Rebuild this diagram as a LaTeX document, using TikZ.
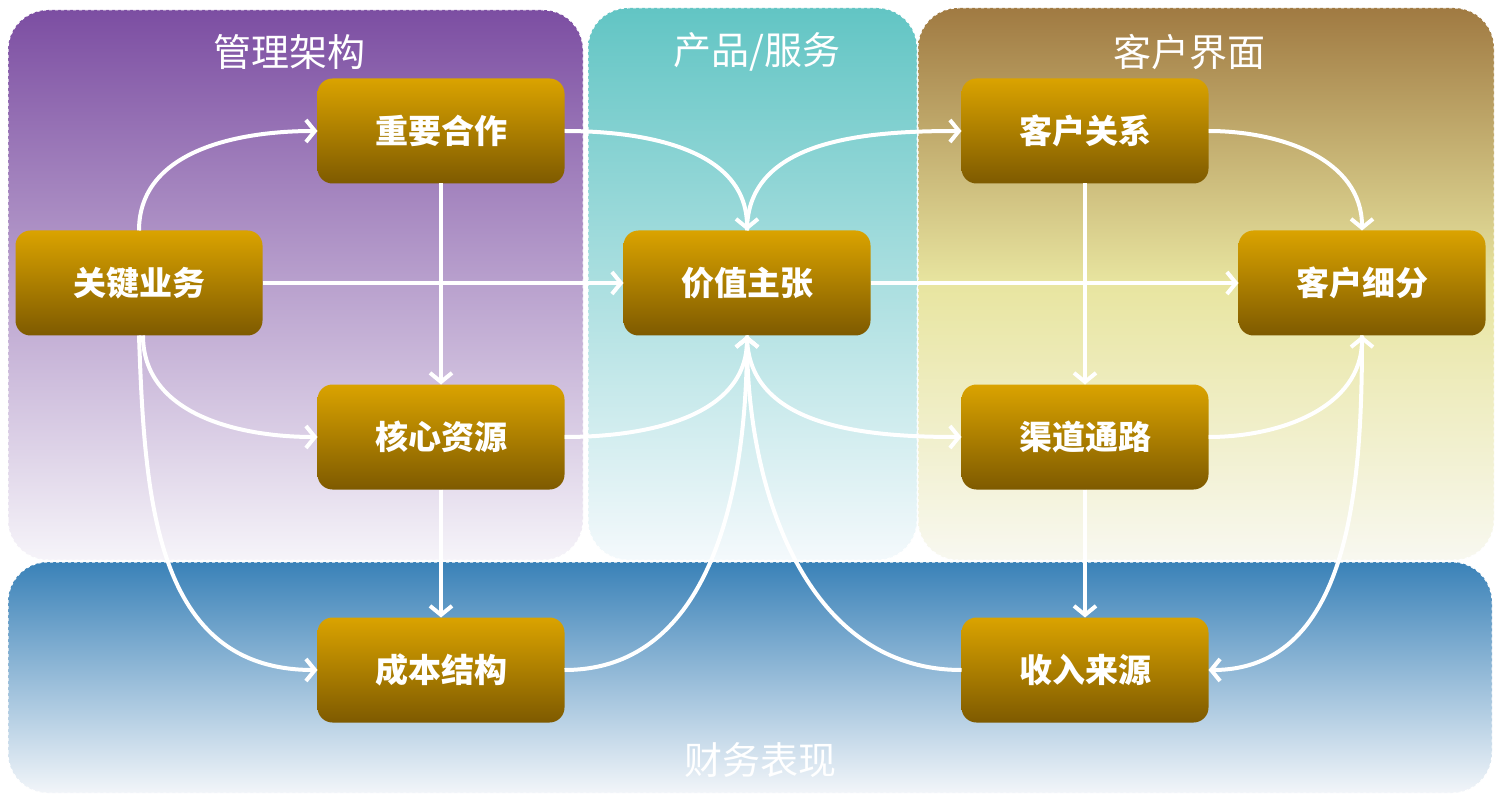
\documentclass[tikz,border=0pt]{standalone}
\usepackage{fontspec}
\setmainfont{Noto Sans CJK SC}
\usetikzlibrary{arrows.meta}
\definecolor{goldtop}{HTML}{DAA300}
\definecolor{goldbot}{HTML}{7E5A00}
\definecolor{purtop}{HTML}{7C4EA2}
\definecolor{purbot}{HTML}{F6F4F9}
\definecolor{teatop}{HTML}{62C5C4}
\definecolor{teabot}{HTML}{F4F9FC}
\definecolor{yeltop}{HTML}{A07A42}
\definecolor{yelmid}{HTML}{E8E5A0}
\definecolor{yelbot}{HTML}{F8F8F0}
\definecolor{blutop}{HTML}{3A82B8}
\definecolor{blubot}{HTML}{F2F5F9}
\tikzset{flow/.style={draw=white, line width=4pt, -{Straight Barb[length=9pt,width=22pt]}},
  unit/.style={rounded corners=15pt, top color=goldtop, bottom color=goldbot, outer sep=0pt,
    minimum width=247pt, minimum height=105pt, text=white, font=\fontsize{33}{36}\selectfont\bfseries},
  area/.style={draw=white, dashed, line width=1pt, rounded corners=40pt},
  areatitle/.style={text=white, font=\fontsize{38}{42}\selectfont}}

\begin{document}
\begin{tikzpicture}[x=1pt,y=1pt]
  \useasboundingbox (0,0) rectangle (1509,807);
  \fill[white] (0,0) rectangle (1509,807);
  % panels
  \draw[area, top color=purtop, bottom color=purbot] (8,247) rectangle (583,797);
  \draw[area, top color=teatop, bottom color=teabot] (588,247) rectangle (917,799);
  \draw[area, top color=yeltop, bottom color=yelbot, middle color=yelmid] (918,247) rectangle (1494,799);
  \draw[area, top color=blutop, bottom color=blubot] (8,14) rectangle (1492,245);
  \node[areatitle] (gl) at (289,755) {管理架构};
  \node[areatitle] (cp) at (757,755) {产品/服务};
  \node[areatitle] (kh) at (1189,755) {客户界面};
  \node[areatitle] (cw) at (760,47) {财务表现};
  % blocks
  \node[unit] (hz) at (441,676) {重要合作};
  \node[unit] (yw) at (139,524) {关键业务};
  \node[unit] (jz) at (747,524) {价值主张};
  \node[unit] (gx) at (1085,676) {客户关系};
  \node[unit] (xf) at (1362,524) {客户细分};
  \node[unit] (zy) at (441,370) {核心资源};
  \node[unit] (qd) at (1085,370) {渠道通路};
  \node[unit] (cb) at (441,137) {成本结构};
  \node[unit] (sr) at (1085,137) {收入来源};
  % straight links
  \draw[flow] (yw.east) -- (jz.west);
  \draw[flow] (jz.east) -- (xf.west);
  \draw[flow] (hz.south) -- (zy.north);
  \draw[flow] (zy.south) -- (cb.north);
  \draw[flow] (gx.south) -- (qd.north);
  \draw[flow] (qd.south) -- (sr.north);
  % curved links
  \draw[flow] (yw.north) to[out=90, in=180] (hz.west);
  \draw[flow] ([xshift=4pt]yw.south) to[out=-90, in=180] (zy.west);
  \draw[flow] (yw.south) to[out=-88, in=180, looseness=1.1] (cb.west);
  \draw[flow] (hz.east) to[out=0, in=90] (jz.north);
  \draw[flow] (jz.north) to[out=90, in=180] (gx.west);
  \draw[flow] (zy.east) to[out=0, in=-90] (jz.south);
  \draw[flow] (cb.east) to[out=0, in=-90] (jz.south);
  \draw[flow] (jz.south) to[out=-90, in=180] (qd.west);
  \draw[flow] (sr.west) to[out=180, in=-90] (jz.south);
  \draw[flow] (gx.east) to[out=0, in=90] (xf.north);
  \draw[flow] (qd.east) to[out=0, in=-90] (xf.south);
  \draw[flow] (xf.south) to[out=-90, in=0] (sr.east);
\end{tikzpicture}
\end{document}
